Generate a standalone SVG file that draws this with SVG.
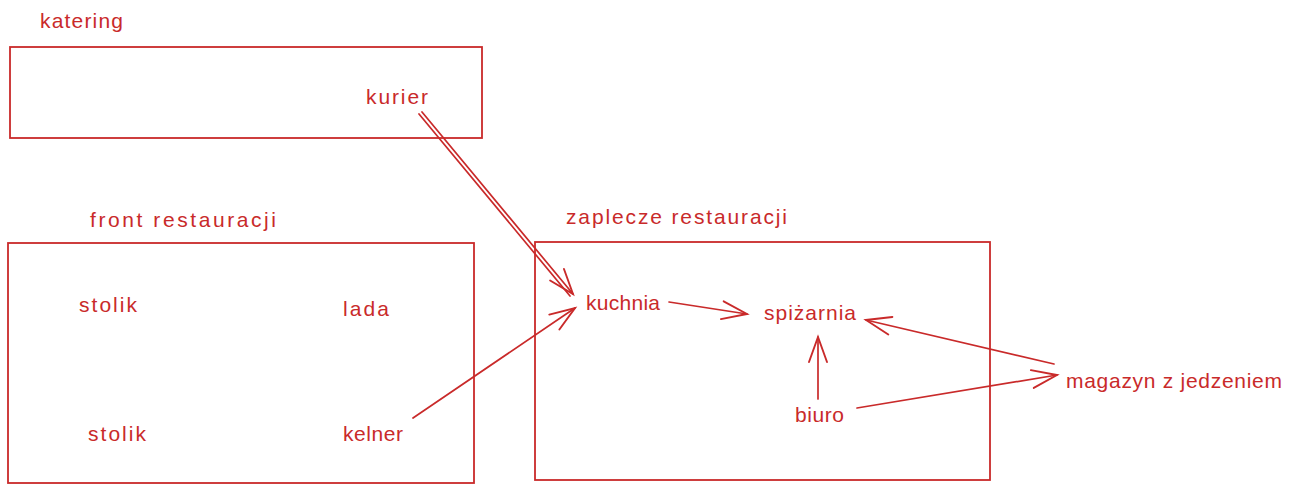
<svg xmlns="http://www.w3.org/2000/svg" width="1293" height="498" viewBox="0 0 1293 498">
<style>
.box{fill:none;stroke:#c92a2a;stroke-width:1.8}
.t{fill:#c92a2a;font-family:"Liberation Sans",Arial,sans-serif;font-size:21px}
.c{fill:none;stroke:#c92a2a;stroke-width:1.7;stroke-linecap:round}
</style>
<defs>
<marker id="ah" markerUnits="userSpaceOnUse" markerWidth="40" markerHeight="40" refX="0" refY="0" orient="auto" viewBox="-30 -15 40 30" overflow="visible">
<path d="M -25 -9 L 0 0 L -25 9" fill="none" stroke="#c92a2a" stroke-width="1.9" stroke-linecap="round"/>
</marker>
</defs>
<rect width="1293" height="498" fill="#ffffff"/>
<g id="katering">
<text class="t" x="40" y="28" textLength="83">katering</text>
<rect class="box" x="10" y="47" width="472" height="91"/>
</g>
<g id="kurier"><text class="t" x="366" y="104" textLength="62">kurier</text></g>
<g id="front">
<text class="t" x="90" y="227" textLength="186">front restauracji</text>
<rect class="box" x="8" y="243" width="466" height="240"/>
</g>
<g id="stolik1"><text class="t" x="79" y="312" textLength="58">stolik</text></g>
<g id="lada"><text class="t" x="343" y="316" textLength="46">lada</text></g>
<g id="stolik2"><text class="t" x="88" y="441" textLength="58">stolik</text></g>
<g id="kelner"><text class="t" x="343" y="441" textLength="60">kelner</text></g>
<g id="zaplecze">
<text class="t" x="566" y="224" textLength="221">zaplecze restauracji</text>
<rect class="box" x="535" y="242" width="455" height="238"/>
</g>
<g id="kuchnia"><text class="t" x="586" y="310" textLength="74">kuchnia</text></g>
<g id="spizarnia"><text class="t" x="764" y="320" textLength="92">spiżarnia</text></g>
<g id="biuro"><text class="t" x="795" y="422" textLength="49">biuro</text></g>
<g id="magazyn"><text class="t" x="1066" y="388" textLength="216">magazyn z jedzeniem</text></g>
<g id="connectors">
<path class="c" d="M 419 114 L 570 296"/>
<path class="c" d="M 422 112 L 573 294" marker-end="url(#ah)"/>
<path class="c" d="M 413 418 L 575 308" marker-end="url(#ah)"/>
<path class="c" d="M 669 302 L 747 314" marker-end="url(#ah)"/>
<path class="c" d="M 818 399 L 818 337" marker-end="url(#ah)"/>
<path class="c" d="M 1054 364 L 866 320" marker-end="url(#ah)"/>
<path class="c" d="M 857 408 L 1057 375" marker-end="url(#ah)"/>
</g>
</svg>
